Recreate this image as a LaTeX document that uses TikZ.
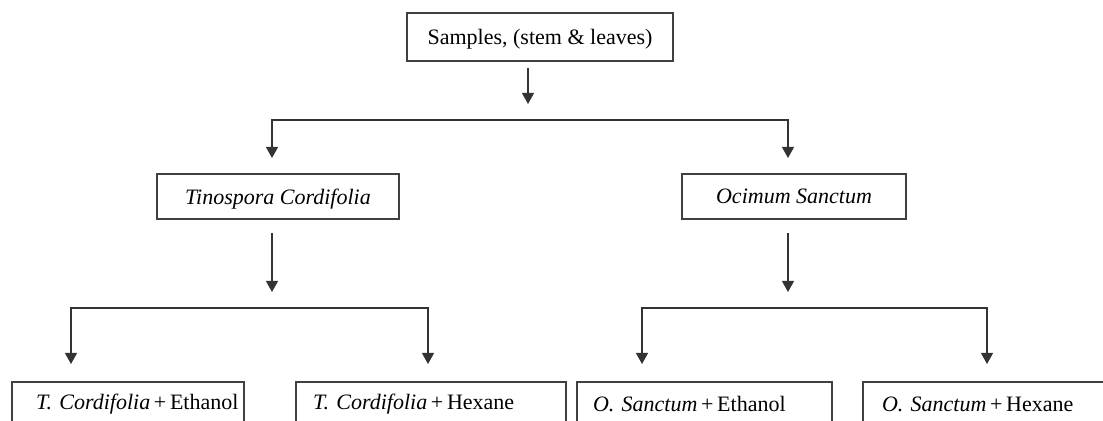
\documentclass[tikz,border=0pt]{standalone}
\usepackage{fontspec}
\setmainfont{Liberation Serif}
\usetikzlibrary{arrows.meta}

\begin{document}
\begin{tikzpicture}[x=.5pt, y=-.5pt, font=\fontsize{11}{13}\selectfont,
  down/.style={-{Triangle[length=5.5pt, width=6pt]}, line width=.6pt, draw=black!80},
  fork/.style={{Triangle[length=5.5pt, width=6pt]}-{Triangle[length=5.5pt, width=6pt]}, line width=.6pt, draw=black!80}]
\def\flowbox{node [draw=black!75, line width=.6pt, inner ysep=0, text depth=0pt, minimum height=22.5pt] }
\def\leafbox{node [draw=black!75, line width=.6pt, inner ysep=0, minimum height=22.5pt, align=left] }

\useasboundingbox (0, 0) rectangle (1103, 421);
\clip (0, 0) rectangle (1103, 421);

\draw (540, 37) \flowbox [minimum width=133pt, minimum height=24pt] (samples) {Samples, (stem \& leaves)};
\draw (278, 196.5) \flowbox [minimum width=121pt] (tino) {\textit{Tinospora Cordifolia}};
\draw (794, 196.5) \flowbox [minimum width=112pt] (ocimum) {\textit{Ocimum Sanctum}};

\draw (128, 404.5) \leafbox [inner xsep=8.5pt, text width=99pt] (tEth) {\mbox{\hspace*{3.5pt}\textit{T. Cordifolia}\,+\,Ethanol}};
\draw (431, 404.5) \leafbox [inner xsep=8.5pt, text width=118pt] (tHex) {\textit{T. Cordifolia}\,+\,Hexane};
\draw (704.5, 404.5) \leafbox [inner xsep=8pt, text width=111.5pt] (oEth) {\textit{O. Sanctum}\,+\,Ethanol};
\draw (991.5, 404.5) \leafbox [inner xsep=9.5pt, text width=109.5pt] (oHex) {\textit{O. Sanctum}\,+\,Hexane};

\coordinate (s0) at (528, 68);
\coordinate (s1) at (528, 104);
\coordinate (split) at (528, 120);
\coordinate (tinoIn) at (272, 158);
\coordinate (ocimumIn) at (788, 158);

\coordinate (t0) at (272, 233);
\coordinate (t1) at (272, 292);
\coordinate (tSplit) at (272, 308);
\coordinate (tEthIn) at (71, 364);
\coordinate (tHexIn) at (428, 364);

\coordinate (o0) at (788, 233);
\coordinate (o1) at (788, 292);
\coordinate (oSplit) at (788, 308);
\coordinate (oEthIn) at (642, 364);
\coordinate (oHexIn) at (987, 364);

\draw [down] (s0) -- (s1);
\draw [fork] (tinoIn) -- (tinoIn |- split) -- (ocimumIn |- split) -- (ocimumIn);

\draw [down] (t0) -- (t1);
\draw [fork] (tEthIn) -- (tEthIn |- tSplit) -- (tHexIn |- tSplit) -- (tHexIn);

\draw [down] (o0) -- (o1);
\draw [fork] (oEthIn) -- (oEthIn |- oSplit) -- (oHexIn |- oSplit) -- (oHexIn);
\end{tikzpicture}
\end{document}
